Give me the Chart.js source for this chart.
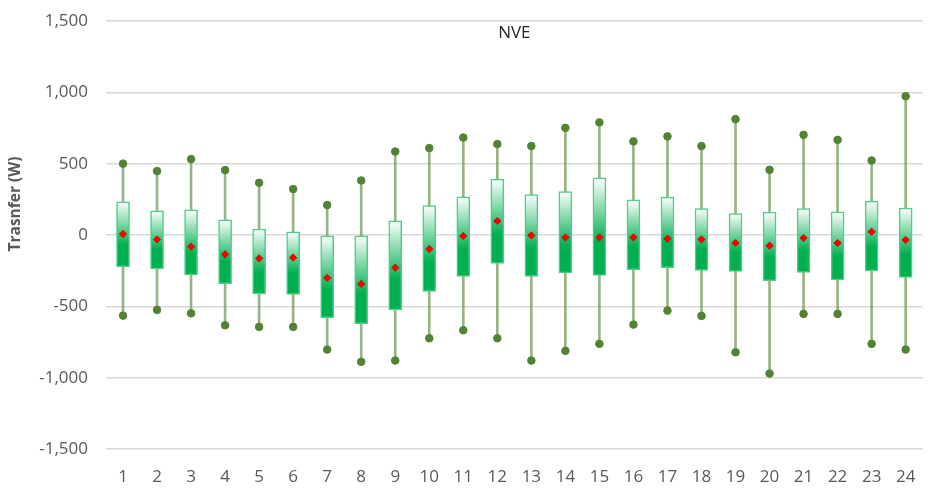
<!DOCTYPE html>
<html lang="en">
<head>
    <meta charset="UTF-8">
    <title>NVE Transfer Box Plot</title>
    <script src="https://cdn.jsdelivr.net/npm/chart.js"></script>
    <style>
        body, html {
            margin: 0;
            padding: 0;
            background: #ffffff;
        }
        #wrap {
            width: 933px;
            height: 498px;
        }
    </style>
</head>
<body>
    <div id="wrap"><canvas id="chart" width="933" height="498"></canvas></div>

    <script>
        // Hours 1..24
        const hours = ['1','2','3','4','5','6','7','8','9','10','11','12','13','14','15','16','17','18','19','20','21','22','23','24'];

        // Values (W)
        const maxVals = [500, 448, 532, 455, 366, 322, 210, 382, 585, 609, 683, 637, 623, 751, 789, 656, 691, 623, 812, 457, 702, 667, 522, 973];
        const q3Vals  = [233, 170, 177, 107, 42, 23, 0, 0, 100, 207, 268, 392, 284, 305, 401, 247, 266, 186, 151, 161, 186, 163, 238, 189];
        const meanVals = [7, -31, -82, -136, -164, -159, -301, -343, -229, -98, -7, 98, -3, -17, -17, -17, -26, -31, -56, -75, -21, -56, 23, -35];
        const q1Vals  = [-222, -238, -280, -341, -413, -416, -579, -621, -525, -395, -290, -199, -290, -266, -283, -243, -229, -248, -255, -320, -262, -315, -252, -297];
        const minVals = [-565, -525, -549, -633, -644, -644, -803, -889, -880, -724, -668, -724, -880, -812, -763, -628, -530, -567, -822, -971, -553, -553, -763, -803];

        const yTicks = [-1500, -1000, -500, 0, 500, 1000, 1500];

        const boxGreen = '#00b050';
        const dotGreen = '#548235';

        // box fill: white at Q3 fading into solid green toward Q1
        function boxFill(context) {
            const chart = context.chart;
            const y = chart.scales.y;
            if (!chart.chartArea || !y) return boxGreen;
            const i = context.dataIndex;
            const top = y.getPixelForValue(q3Vals[i]);
            const bottom = y.getPixelForValue(q1Vals[i]);
            if (!isFinite(top) || !isFinite(bottom) || top === bottom) return boxGreen;
            const g = chart.ctx.createLinearGradient(0, top, 0, bottom);
            g.addColorStop(0, '#ffffff');
            g.addColorStop(0.66, boxGreen);
            g.addColorStop(1, boxGreen);
            return g;
        }

        // "NVE" sits inside the plot area, axis title sits a bit above centre
        const chartTexts = {
            id: 'chartTexts',
            afterDraw(chart) {
                const { ctx, chartArea } = chart;
                ctx.save();
                ctx.font = '17px "Open Sans"';
                ctx.fillStyle = '#262626';
                ctx.textAlign = 'center';
                ctx.textBaseline = 'middle';
                ctx.fillText('NVE', (chartArea.left + chartArea.right) / 2, 33);

                ctx.translate(15.5, 204);
                ctx.rotate(-Math.PI / 2);
                ctx.font = 'bold 15.5px "Open Sans"';
                ctx.fillStyle = '#595959';
                ctx.fillText('Trasnfer (W)', 0, 0);
                ctx.restore();
            }
        };

        new Chart(document.getElementById('chart'), {
            type: 'bar',
            data: {
                labels: hours,
                datasets: [{
                    label: 'Whisker',
                    data: hours.map((h, i) => [minVals[i], maxVals[i]]),
                    backgroundColor: 'rgba(84, 130, 53, 0.6)',
                    borderWidth: 0,
                    barThickness: 2,
                    grouped: false,
                    order: 4
                }, {
                    label: 'Box',
                    data: hours.map((h, i) => [q1Vals[i], q3Vals[i]]),
                    backgroundColor: boxFill,
                    borderColor: '#4ccd88',
                    borderWidth: 1.5,
                    borderSkipped: false,
                    barThickness: 13,
                    grouped: false,
                    order: 3
                }, {
                    label: 'Max',
                    type: 'line',
                    data: maxVals,
                    showLine: false,
                    pointRadius: 3.8,
                    pointBorderWidth: 1,
                    pointBackgroundColor: dotGreen,
                    pointBorderColor: dotGreen,
                    order: 2
                }, {
                    label: 'Min',
                    type: 'line',
                    data: minVals,
                    showLine: false,
                    pointRadius: 3.8,
                    pointBorderWidth: 1,
                    pointBackgroundColor: dotGreen,
                    pointBorderColor: dotGreen,
                    order: 2
                }, {
                    label: 'Mean',
                    type: 'line',
                    data: meanVals,
                    showLine: false,
                    pointStyle: 'rectRot',
                    pointRadius: 3.6,
                    pointBorderWidth: 1,
                    pointBackgroundColor: '#ff0000',
                    pointBorderColor: '#e00000',
                    order: 1
                }]
            },
            options: {
                responsive: false,
                animation: false,
                events: [],
                layout: {
                    padding: { top: 21, right: 6, bottom: 11, left: 0 }
                },
                plugins: {
                    legend: { display: false },
                    tooltip: { enabled: false },
                    title: { display: false }
                },
                scales: {
                    x: {
                        afterFit: (scale) => { scale.height = 38; },
                        grid: { display: false, drawTicks: false },
                        border: { display: false },
                        ticks: {
                            color: '#595959',
                            padding: 17.5,
                            font: { family: 'Open Sans', size: 17 }
                        }
                    },
                    y: {
                        min: -1500,
                        max: 1500,
                        afterFit: (scale) => {
                            scale.width = 106;
                            scale.paddingTop = 0;
                            scale.paddingBottom = 0;
                        },
                        afterBuildTicks: (scale) => {
                            scale.ticks = yTicks.map(v => ({ value: v }));
                        },
                        grid: {
                            color: '#d9d9d9',
                            lineWidth: 1.5,
                            drawTicks: false
                        },
                        border: { display: false },
                        ticks: {
                            color: '#595959',
                            padding: 18,
                            font: { family: 'Open Sans', size: 17 },
                            callback: (v) => v.toLocaleString('en-US')
                        }
                    }
                }
            },
            plugins: [chartTexts]
        });
    </script>
</body>
</html>
